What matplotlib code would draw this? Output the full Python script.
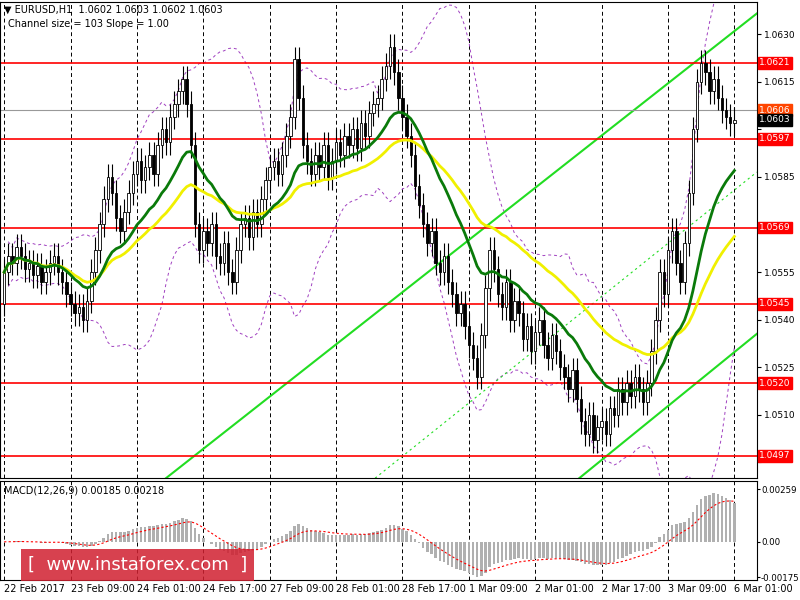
import numpy as np, pandas as pd
import matplotlib
matplotlib.use("Agg")
import matplotlib.pyplot as plt
from matplotlib.patches import Rectangle

closes_pips = [55,60,58,63,60,56,58, 54,57,52,55,58,60,55,52, 48,45,42,44,40,46,
 55,62,70,78,85,80,72, 68,74,80,86,90,84, 88,92,86,95,100,96,104,108,
 112,116,108,95,70, 62,68,64,70,60,58,64,55,52, 62,70,72,66,74,70,78,
 84,88,90,86,92,98,104, 122,110,95, 90,86,92,88,95,85,90,96,
 92,98,95,100,94,102,98,105,108, 110,116,120,126, 118,110,104,98,92,
 82,76,70,64,68,58,55, 60,52,48,42,45,38, 32,28,22,35,50,62,
 56,48,44,52,40,46, 42,34,38,30,36,40,32,28,35, 30,25,22,18,24,15,
 8,4,10,2,6, 8,4,12,10,18,14, 20,16,22,18,14,20,30, 40,55,48,62,68,
 58,52,64,80,100, 115,121,118,112, 116,110,106,104,102,103]
closes = 1.0500 + np.array(closes_pips)/10000.0
opens = np.concatenate([[1.0545], closes[:-1]])
wick = 0.0004
highs = np.maximum(opens, closes) + wick
lows = np.minimum(opens, closes) - wick

red_levels = [1.0621, 1.0597, 1.0569, 1.0545, 1.0520, 1.0497]
grey_level = 1.0606
last_price = 1.0603
price_ticks = [1.0630,1.0615,1.0600,1.0585,1.0570,1.0555,1.0540,1.0525,1.0510,1.0495]
hidden_ticks = [1.0570, 1.0495, 1.0600]
x_labels = ["22 Feb 2017","23 Feb 09:00","24 Feb 01:00","24 Feb 17:00","27 Feb 09:00",
            "28 Feb 01:00","28 Feb 17:00","1 Mar 09:00","2 Mar 01:00","2 Mar 17:00",
            "3 Mar 09:00","6 Mar 01:00"]
x_label_idx = [0,16,32,48,64,80,96,112,128,144,160,176]
chan_upper = [(39, 1.0490), (181.4, 1.06365)]
chan_lower = [(138.6, 1.0490), (181.4, 1.05355)]
chan_mid = [(89.4, 1.0490), (181.4, 1.05865)]

s = pd.Series(closes)
ma_fast = s.ewm(span=20).mean()
ma_slow = s.ewm(span=45).mean()
bb_mid = s.rolling(20, min_periods=2).mean()
bb_std = s.rolling(20, min_periods=2).std()
ema12 = s.ewm(span=12).mean(); ema26 = s.ewm(span=26).mean()
macd = ema12 - ema26
signal = macd.ewm(span=9).mean()

fig = plt.figure(figsize=(8,6), dpi=100)
ax = fig.add_axes([0.0, 0.203, 0.946, 0.793])
mx = fig.add_axes([0.0, 0.033, 0.946, 0.165])
n = len(closes); idx = np.arange(n)
xl = (-1, 181.4)

for a in (ax, mx):
    a.set_xlim(*xl)
    for xi in x_label_idx:
        a.axvline(xi, color='black', ls=(0,(4,3)), lw=0.7, zorder=0)
    a.yaxis.tick_right()
    a.tick_params(axis='y', labelsize=6.5, length=3, pad=2)
    a.tick_params(axis='x', length=0)
    a.set_xticks([])
mx.tick_params(axis='y', labelsize=6.2, length=2, pad=1)

ax.set_ylim(1.0490, 1.0640)
ax.set_yticks(price_ticks)
ax.set_yticklabels(["" if p in hidden_ticks else f"{p:.4f}" for p in price_ticks])

for i in idx:
    ax.vlines(i, lows[i], highs[i], color='black', lw=0.8, zorder=3)
    b = min(opens[i], closes[i]); h = abs(closes[i]-opens[i]) or 0.00003
    ax.add_patch(Rectangle((i-0.3, b), 0.6, h,
                 facecolor='white' if closes[i] > opens[i] else 'black',
                 edgecolor='black', lw=0.6, zorder=4))

ax.plot(idx, bb_mid+2*bb_std, color='#a040c0', ls=(0,(3,3)), lw=0.7, zorder=2)
ax.plot(idx, bb_mid-2*bb_std, color='#a040c0', ls=(0,(3,3)), lw=0.7, zorder=2)
ax.plot(idx, ma_slow, color='#f0f000', lw=2, zorder=5)
ax.plot(idx, ma_fast, color='#0a7a0a', lw=2, zorder=6)
for (p0, p1), st in [(chan_upper, '-'), (chan_lower, '-'), (chan_mid, (0,(2,3)))]:
    ax.plot([p0[0], p1[0]], [p0[1], p1[1]], color='#22dd22', lw=1.5 if st=='-' else 0.8, ls=st, zorder=2)

def tag(lv, fc, z):
    ax.text(1.003, lv, f"{lv:.4f}", transform=ax.get_yaxis_transform(), fontsize=6.5, color='white',
            va='center', ha='left', bbox=dict(boxstyle='square,pad=0.15', fc=fc, ec=fc), zorder=z, clip_on=False)
for lv in red_levels:
    ax.axhline(lv, color='red', lw=1.2, zorder=2)
    tag(lv, 'red', 10)
ax.axhline(grey_level, color='#999999', lw=0.8, zorder=2)
tag(grey_level, '#ff4500', 10)
tag(last_price, 'black', 11)

ax.text(0.005, 0.995, "▼ EURUSD,H1  1.0602 1.0603 1.0602 1.0603", transform=ax.transAxes, fontsize=7, va='top')
ax.text(0.01, 0.965, "Channel size = 103 Slope = 1.00", transform=ax.transAxes, fontsize=7, va='top')

mx.bar(idx, macd, width=0.6, color='#b0b0b0', zorder=2)
mx.plot(idx, signal, color='red', ls=(0,(2,2)), lw=0.8, zorder=3)
mx.set_ylim(-0.0019, 0.0030)
mx.set_yticks([0.00259, 0.0, -0.00175]); mx.set_yticklabels(["0.00259","0.00","-0.00175"])
mx.text(0.005, 0.96, "MACD(12,26,9) 0.00185 0.00218", transform=mx.transAxes, fontsize=7, va='top')
for xi, lab in zip(x_label_idx, x_labels):
    mx.text(xi, -0.0021, lab, fontsize=7, ha='left', va='top', clip_on=False)
fig.text(0.035, 0.05, "[  www.instaforex.com  ]", fontsize=13, color='white',
         bbox=dict(boxstyle='square,pad=0.4', fc='#d02030', ec='none', alpha=0.85))
fig.savefig("out.png", dpi=100)
